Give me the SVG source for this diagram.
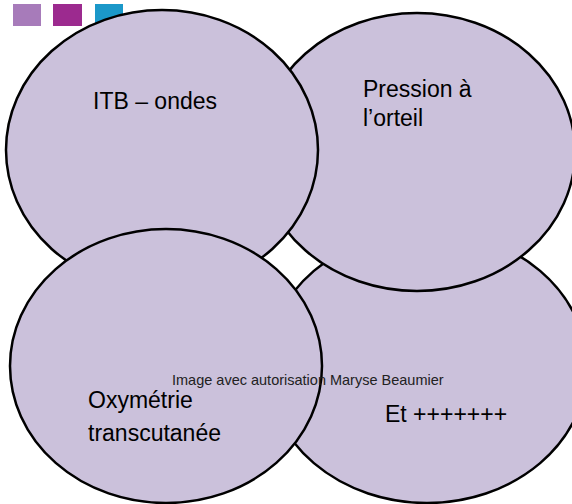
<svg xmlns="http://www.w3.org/2000/svg" width="572" height="504" viewBox="0 0 572 504">
<style>
.bub{fill:#CBC1DB;stroke:#000;stroke-width:2.5}
.lbl{font-family:"Liberation Sans",Arial,sans-serif;font-size:23px;fill:#000}
.cap{font-family:"Liberation Sans",Arial,sans-serif;font-size:14.5px;fill:#222}
</style>
<rect x="0" y="0" width="572" height="504" fill="#fff"/>
<g id="deco">
<rect x="13" y="4" width="28" height="22" fill="#A77BBA"/>
<rect x="53" y="4" width="29" height="22" fill="#9C2A8F"/>
<rect x="95" y="4" width="28" height="22" fill="#1B98C9"/>
</g>
<g id="connectors"></g>
<g id="node-br">
<ellipse class="bub" cx="427" cy="367" rx="160" ry="136"/>
<text class="lbl" x="385" y="422">Et +++++++</text>
</g>
<g id="node-tr">
<ellipse class="bub" cx="417" cy="152" rx="158" ry="139"/>
<text class="lbl" x="363" y="97">Pression à</text>
<text class="lbl" x="363" y="126">l’orteil</text>
</g>
<g id="node-tl">
<ellipse class="bub" cx="162" cy="150" rx="156" ry="140"/>
<text class="lbl" x="93" y="109">ITB – ondes</text>
</g>
<g id="node-bl">
<ellipse class="bub" cx="166" cy="366" rx="156" ry="137"/>
<text class="lbl" x="88" y="408">Oxymétrie</text>
<text class="lbl" x="88" y="441">transcutanée</text>
</g>
<text class="cap" x="172" y="385">Image avec autorisation Maryse Beaumier</text>
</svg>
